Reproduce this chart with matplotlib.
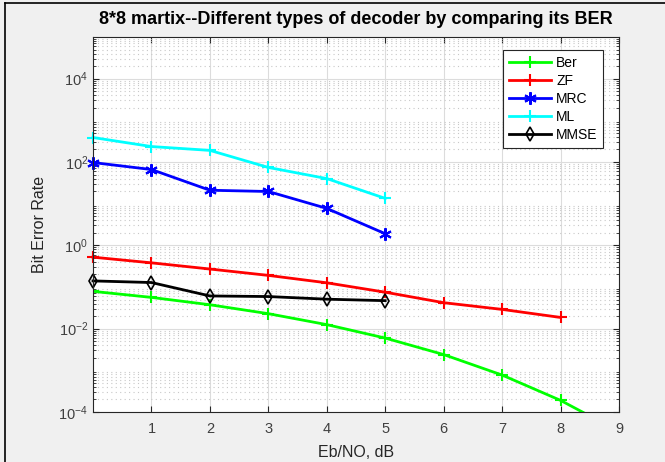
import matplotlib
matplotlib.use("Agg")
import matplotlib.pyplot as plt
from matplotlib.lines import Line2D
from matplotlib.ticker import LogLocator, NullFormatter, FixedLocator

plt.rcParams.update({
    "font.family": ["Liberation Sans", "DejaVu Sans"],
    "figure.facecolor": "#f0f0f0",
    "axes.facecolor": "white",
    "axes.edgecolor": "#262626",
    "xtick.color": "#262626",
    "ytick.color": "#262626",
    "xtick.labelcolor": "#404040",
    "ytick.labelcolor": "#404040",
})

# Eb/N0 in dB
snr_full = [0, 1, 2, 3, 4, 5, 6, 7, 8, 9]
snr_short = [0, 1, 2, 3, 4, 5]
snr_zf = [0, 1, 2, 3, 4, 5, 6, 7, 8]

ber_theory = [0.0786, 0.0563, 0.0375, 0.0229, 0.0125, 0.00595, 0.00239, 7.7e-4, 1.9e-4, 3.4e-5]
ber_zf = [0.52, 0.38, 0.27, 0.19, 0.126, 0.075, 0.042, 0.029, 0.0186]
ber_mrc = [97, 66, 21, 19.6, 7.7, 1.9]
ber_ml = [387, 235, 190, 74, 40, 13.4]
ber_mmse = [0.14, 0.128, 0.061, 0.059, 0.051, 0.047]

fig = plt.figure(figsize=(6.65, 4.62), dpi=100)
ax = fig.add_axes([93 / 665, 1 - 412 / 462, (619 - 93) / 665, (412 - 37) / 462])

lw = 2
ax.semilogy(snr_full, ber_theory, color="#00ff00", marker="+", ms=9, mew=1.5, lw=lw, label="Ber")
ax.semilogy(snr_zf, ber_zf, color="#ff0000", marker="+", ms=9, mew=1.5, lw=lw,
            label="ZF", clip_on=False)
ax.semilogy(snr_short, ber_mrc, color="#0000ff", marker=(6, 2, 0), ms=9, mew=1.5, lw=lw,
            label="MRC", clip_on=False)
ax.semilogy(snr_short, ber_ml, color="#00ffff", marker="+", ms=9, mew=1.5, lw=lw,
            label="ML", clip_on=False)
ax.semilogy(snr_short, ber_mmse, color="black", marker="d", ms=7, mfc="none", mew=1.2, lw=lw,
            label="MMSE", clip_on=False)

ax.set_xlim(0, 9)
ax.set_ylim(1e-4, 1e5)
ax.xaxis.set_major_locator(FixedLocator([1, 2, 3, 4, 5, 6, 7, 8, 9]))
ax.yaxis.set_major_locator(FixedLocator([1e-4, 1e-2, 1e0, 1e2, 1e4]))
ax.yaxis.set_minor_locator(LogLocator(base=10, subs=range(2, 10), numticks=20))
ax.yaxis.set_minor_formatter(NullFormatter())

ax.tick_params(which="both", direction="in", top=True, right=True, labelsize=10.5)
ax.tick_params(which="major", length=4)
ax.tick_params(which="minor", length=2)
ax.tick_params(axis="x", pad=7)

ax.grid(True, which="major", color="#dcdcdc", lw=0.8)
ax.grid(True, which="minor", axis="y", color="#c8c8c8", lw=0.8, ls=(0, (1, 3)))
ax.set_axisbelow(True)

ax.set_title("8*8 martix--Different types of decoder by comparing its BER",
             fontsize=13, fontweight="bold", color="black", pad=9)
ax.set_xlabel("Eb/NO, dB", fontsize=11.5, color="#262626", labelpad=7)
ax.set_ylabel("Bit Error Rate", fontsize=11.5, color="#262626", labelpad=8)

leg = ax.legend(loc="upper right", bbox_to_anchor=(0.970, 0.965), borderaxespad=0,
                fontsize=10, fancybox=False, framealpha=1, edgecolor="#262626",
                handlelength=3.0, handletextpad=0.4, labelspacing=0.3,
                borderpad=0.4)
leg.get_frame().set_linewidth(0.8)

# outer frame lines seen at the left and top of the image
fig.add_artist(Line2D([5 / 665, 5 / 665], [0, 1 - 3 / 462], color="black", lw=1.2))
fig.add_artist(Line2D([5 / 665, 1], [1 - 3 / 462, 1 - 3 / 462], color="black", lw=1.2))

fig.savefig("out.png", dpi=100)
